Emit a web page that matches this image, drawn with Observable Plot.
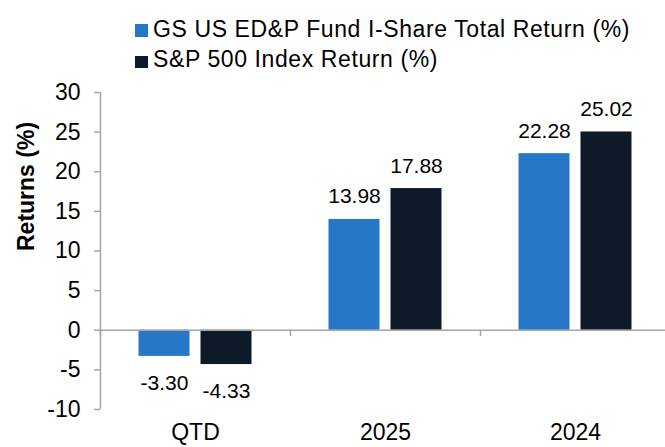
<!DOCTYPE html>
<html><head><meta charset="utf-8">
<script src="https://cdn.jsdelivr.net/npm/d3@7"></script>
<script src="https://cdn.jsdelivr.net/npm/@observablehq/plot@0.6"></script>
<style>
body{margin:0;background:#fff;font-family:"Liberation Sans",Arial,sans-serif;}
#wrap{position:relative;width:665px;height:447px;overflow:hidden;background:#fff}
#legend{position:relative;height:80px;width:665px}
.sw{position:absolute;width:12.5px;height:12.5px}
.lt{position:absolute;font-size:23px;line-height:23px;color:#000;white-space:nowrap;letter-spacing:0.6px}
</style></head><body><div id="wrap"><div id="legend"></div><div id="chart"></div></div>
<script>
const categories = ["QTD", "2025", "2024"];
const series = ["GS US ED&P Fund I-Share Total Return (%)", "S&P 500 Index Return (%)"];
const fundReturns = [-3.30, 13.98, 22.28];
const spReturns = [-4.33, 17.88, 25.02];
const seriesColors = ["#2677C7", "#0F1A28"];
const yTicks = [-10, -5, 0, 5, 10, 15, 20, 25, 30];
const yDomain = [-10, 30];
const yLabel = "Returns (%)";

const data = categories.flatMap((c, i) => [
  {cat: c, series: series[0], value: fundReturns[i]},
  {cat: c, series: series[1], value: spReturns[i]}
]);

// legend
const legend = document.getElementById("legend");
series.forEach((s, i) => {
  const sw = document.createElement("div");
  sw.className = "sw";
  sw.style.left = "135px";
  sw.style.top = (24 + i * 31.5) + "px";
  sw.style.background = seriesColors[i];
  legend.appendChild(sw);
  const t = document.createElement("div");
  t.className = "lt";
  t.style.left = "153px";
  t.style.top = (18.3 + i * 29.5) + "px";
  t.textContent = s;
  legend.appendChild(t);
});

const fxRange = [99.5, 670.5];
const pIn = 0.176, pOut = 0.616;
const fxBand = (fxRange[1] - fxRange[0]) / categories.length;
const step = fxBand / (series.length - pIn + 2 * pOut);
const firstCenter = pOut * step + step * (1 - pIn) / 2;
const axisGray = "#a6a6a6";
const font = "'Liberation Sans', Arial, sans-serif";

const chart = Plot.plot({
  width: 665, height: 367,
  marginTop: 12, marginBottom: 38, marginLeft: 99.5, marginRight: 0,
  style: {fontFamily: font, fontSize: "22px", color: "#000", background: "#fff", overflow: "visible"},
  fx: {domain: categories, range: fxRange, padding: 0},
  x: {domain: series, paddingInner: pIn, paddingOuter: pOut, axis: null},
  y: {domain: yDomain},
  color: {domain: series, range: seriesColors},
  marks: [
    Plot.barY(data, {fx: "cat", x: "series", y1: 0, y2: "value", fill: "series"}),
    Plot.ruleY([0], {stroke: axisGray, strokeWidth: 1.5}),
    Plot.ruleX(categories, {fx: d => d, x: () => series[0], dx: -firstCenter, y1: 0, y2: -0.8, stroke: axisGray, strokeWidth: 1.5}),
    Plot.ruleX([categories[0]], {fx: d => d, x: () => series[0], dx: -firstCenter, y1: yDomain[0], y2: yDomain[1], stroke: axisGray, strokeWidth: 1.5}),
    Plot.axisY({ticks: yTicks, tickSize: 6, tickPadding: 14, tickFormat: d => `${d}`, stroke: axisGray, strokeWidth: 1.5, fill: "#000", fontSize: 23, label: null}),
    Plot.axisFx({anchor: "bottom", tickSize: 0, tickPadding: 14.5, fontSize: 23, fill: "#000", label: null}),
    Plot.text(data.filter(d => d.value >= 0), {fx: "cat", x: "series", y: "value", text: d => d.value.toFixed(2), lineAnchor: "bottom", dy: -16, fontSize: 21, fill: "#000"}),
    Plot.text(data.filter(d => d.value < 0), {fx: "cat", x: "series", y: "value", text: d => d.value.toFixed(2), lineAnchor: "bottom", dy: 33.5, fontSize: 21, fill: "#000"}),
    Plot.text([yLabel], {fx: () => categories[0], frameAnchor: "left", rotate: -90, dx: -67, lineAnchor: "bottom", fontWeight: "bold", fontSize: 23, fill: "#000"})
  ]
});
document.getElementById("chart").appendChild(chart);
</script></body></html>
